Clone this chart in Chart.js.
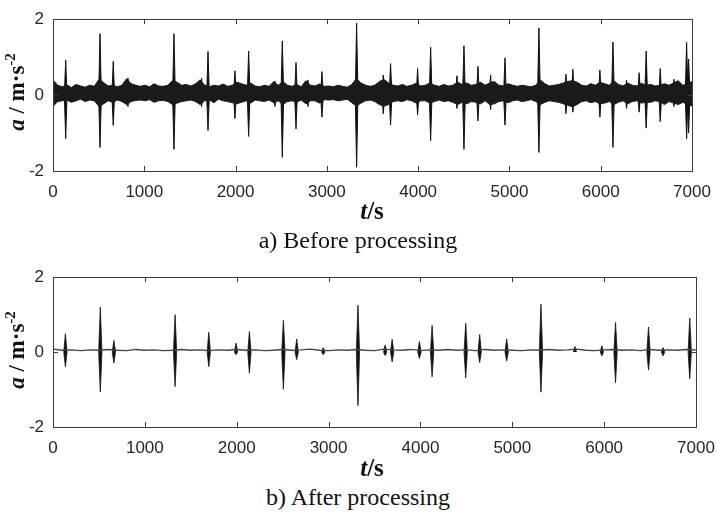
<!DOCTYPE html>
<html>
<head>
<meta charset="utf-8">
<script src="https://cdn.jsdelivr.net/npm/chart.js@4.4.1/dist/chart.umd.min.js"></script>
<style>
  html, body { margin: 0; padding: 0; background: #fff; }
  #wrap { position: relative; width: 717px; height: 518px; overflow: hidden; }
  canvas { position: absolute; left: 0; }
  .ylab {
    position: absolute; white-space: nowrap; font: bold 23px "Liberation Serif", "Times New Roman", serif;
    color: #111; transform: translate(-50%, -50%) rotate(-90deg);
  }
  .ylab sup { font-size: 15px; position: relative; top: -2px; vertical-align: top; }
  .xlab {
    position: absolute; white-space: nowrap; font: bold 25px "Liberation Serif", "Times New Roman", serif;
    color: #111; transform: translate(-50%, -50%);
  }
  .cap {
    position: absolute; white-space: nowrap; font: 24px "Liberation Serif", "Times New Roman", serif;
    color: #111; transform: translate(-50%, -50%);
  }
</style>
</head>
<body>
<div id="wrap">
  <canvas id="before" width="717" height="200" style="top:0"></canvas>
  <canvas id="after" width="717" height="200" style="top:258px"></canvas>
  <div class="ylab" style="left:17px; top:92px"><i>a</i> / m·s<sup>-2</sup></div>
  <div class="ylab" style="left:17px; top:350px"><i>a</i> / m·s<sup>-2</sup></div>
  <div class="xlab" style="left:372px; top:211px"><i>t</i>/s</div>
  <div class="xlab" style="left:372px; top:468px"><i>t</i>/s</div>
  <div class="cap" style="left:358px; top:240px">a) Before processing</div>
  <div class="cap" style="left:358px; top:497px">b) After processing</div>
</div>
<script>
// x grid / ticks
const xTicks = [0, 1000, 2000, 3000, 4000, 5000, 6000, 7000];
const yTicks = [-2, 0, 2];
const T_END = 7000;

// before processing: noise envelope (upper / lower edge), 140 samples over 0..7000 s
const bandHi = [
  0.40, 0.26, 0.22, 0.27, 0.20, 0.28, 0.24, 0.21, 0.26, 0.23,
  0.42, 0.33, 0.24, 0.26, 0.22, 0.26, 0.43, 0.30, 0.26, 0.23,
  0.26, 0.22, 0.30, 0.24, 0.23, 0.26, 0.38, 0.34, 0.26, 0.28,
  0.24, 0.30, 0.40, 0.26, 0.22, 0.26, 0.24, 0.29, 0.23, 0.26,
  0.34, 0.30, 0.26, 0.32, 0.24, 0.22, 0.26, 0.23, 0.35, 0.26,
  0.36, 0.26, 0.23, 0.28, 0.22, 0.38, 0.26, 0.24, 0.29, 0.23,
  0.24, 0.22, 0.26, 0.23, 0.21, 0.28, 0.44, 0.32, 0.26, 0.23,
  0.26, 0.36, 0.41, 0.32, 0.26, 0.24, 0.28, 0.23, 0.26, 0.31,
  0.24, 0.26, 0.32, 0.26, 0.23, 0.28, 0.24, 0.26, 0.34, 0.28,
  0.32, 0.26, 0.28, 0.34, 0.26, 0.32, 0.36, 0.26, 0.24, 0.30,
  0.26, 0.23, 0.26, 0.24, 0.22, 0.26, 0.40, 0.30, 0.24, 0.26,
  0.28, 0.32, 0.36, 0.38, 0.34, 0.26, 0.24, 0.30, 0.26, 0.34,
  0.30, 0.26, 0.38, 0.28, 0.24, 0.32, 0.26, 0.24, 0.31, 0.26,
  0.28, 0.24, 0.26, 0.30, 0.26, 0.32, 0.38, 0.26, 0.30, 0.36
];
const bandLo = [
  -0.30, -0.17, -0.15, -0.13, -0.19, -0.15, -0.11, -0.17, -0.13, -0.15,
  -0.30, -0.23, -0.15, -0.19, -0.13, -0.17, -0.25, -0.17, -0.14, -0.13,
  -0.15, -0.12, -0.19, -0.15, -0.14, -0.17, -0.25, -0.21, -0.17, -0.15,
  -0.13, -0.17, -0.25, -0.15, -0.13, -0.20, -0.11, -0.15, -0.17, -0.20,
  -0.23, -0.19, -0.15, -0.21, -0.13, -0.15, -0.17, -0.13, -0.20, -0.15,
  -0.25, -0.17, -0.15, -0.19, -0.13, -0.23, -0.15, -0.15, -0.21, -0.12,
  -0.13, -0.12, -0.15, -0.13, -0.11, -0.20, -0.29, -0.21, -0.15, -0.13,
  -0.17, -0.25, -0.29, -0.25, -0.17, -0.15, -0.17, -0.12, -0.15, -0.21,
  -0.15, -0.15, -0.21, -0.17, -0.13, -0.17, -0.15, -0.19, -0.25, -0.19,
  -0.23, -0.17, -0.19, -0.23, -0.15, -0.25, -0.23, -0.17, -0.15, -0.20,
  -0.15, -0.13, -0.17, -0.15, -0.12, -0.17, -0.25, -0.19, -0.15, -0.17,
  -0.19, -0.23, -0.27, -0.31, -0.25, -0.17, -0.15, -0.20, -0.17, -0.23,
  -0.21, -0.17, -0.25, -0.19, -0.15, -0.23, -0.17, -0.15, -0.21, -0.19,
  -0.19, -0.15, -0.17, -0.25, -0.17, -0.21, -0.25, -0.19, -0.25, -0.29
];

// before processing: impacts (time, peak, trough)
const spikeT  = [139, 515, 660, 821, 1325, 1628, 1698, 1993, 2143, 2431, 2512, 2662, 2793, 2946, 3326, 3618, 3698, 3994, 4137, 4425, 4502, 4655, 4794, 4951, 5323, 5619, 5695, 5991, 6134, 6283, 6421, 6498, 6652, 6802, 6941, 6963];
const spikeHi = [0.92, 1.62, 0.89, 0.45, 1.62, 0.45, 1.15, 0.64, 1.16, 0.37, 1.43, 0.86, 0.40, 0.62, 1.90, 0.53, 0.83, 0.70, 1.26, 0.51, 1.30, 0.76, 0.53, 0.98, 1.77, 0.55, 0.68, 0.66, 1.40, 0.39, 0.59, 1.16, 0.70, 0.42, 1.39, 0.95];
const spikeLo = [-1.15, -1.38, -0.80, -0.30, -1.43, -0.30, -0.93, -0.62, -1.09, -0.30, -1.64, -0.89, -0.30, -0.58, -1.90, -0.49, -0.79, -0.52, -1.20, -0.35, -1.43, -0.68, -0.38, -0.79, -1.51, -0.49, -0.45, -0.58, -1.38, -0.35, -0.45, -0.87, -0.70, -0.30, -1.15, -1.00];

// after processing: residual baseline every 100 s
const BASE_STEP = 100;
const baseLine = [
  0.08, 0.05, 0.06, 0.04, 0.06, 0.05, 0.07, 0.05, 0.04, 0.07,
  0.05, 0.06, 0.04, 0.05, 0.07, 0.05, 0.06, 0.04, 0.06, 0.05,
  0.07, 0.05, 0.06, 0.04, 0.05, 0.07, 0.05, 0.06, 0.08, 0.05,
  0.04, 0.06, 0.05, 0.07, 0.05, 0.04, 0.08, 0.06, 0.05, 0.07,
  0.04, 0.06, 0.05, 0.07, 0.05, 0.06, 0.04, 0.07, 0.05, 0.06,
  0.05, 0.04, 0.06, 0.05, 0.07, 0.05, 0.06, 0.08, 0.05, 0.04,
  0.06, 0.07, 0.05, 0.06, 0.04, 0.07, 0.05, 0.06, 0.05, 0.07, 0.06
];
const afterT  = [135, 515, 663, 1329, 1696, 1993, 2138, 2508, 2653, 2942, 3320, 3616, 3692, 3989, 4127, 4493, 4645, 4939, 5312, 5682, 5975, 6124, 6483, 6641, 6932];
const afterHi = [0.49, 1.20, 0.31, 1.00, 0.53, 0.24, 0.55, 0.85, 0.35, 0.12, 1.25, 0.19, 0.34, 0.28, 0.71, 0.77, 0.47, 0.35, 1.28, 0.15, 0.17, 0.79, 0.67, 0.12, 0.91];
const afterLo = [-0.39, -1.06, -0.29, -0.92, -0.39, -0.07, -0.56, -0.99, -0.20, -0.07, -1.43, -0.09, -0.26, -0.17, -0.66, -0.69, -0.28, -0.24, -1.07, 0.00, -0.10, -0.82, -0.48, -0.10, -0.71];

// MATLAB-like box with inward ticks
const boxPlugin = {
  id: "box",
  afterDraw(chart) {
    const { ctx, chartArea: a, scales } = chart;
    ctx.save();
    ctx.strokeStyle = "#3c3c3c";
    ctx.lineWidth = 1;
    ctx.strokeRect(Math.round(a.left) + 0.5, Math.round(a.top) + 0.5,
      Math.round(a.right - a.left), Math.round(a.bottom - a.top));
    ctx.beginPath();
    xTicks.forEach((v) => {
      const x = Math.round(scales.x.getPixelForValue(v)) + 0.5;
      ctx.moveTo(x, a.top); ctx.lineTo(x, a.top + 5);
      ctx.moveTo(x, a.bottom); ctx.lineTo(x, a.bottom - 5);
    });
    yTicks.forEach((v) => {
      const y = Math.round(scales.y.getPixelForValue(v)) + 0.5;
      ctx.moveTo(a.left, y); ctx.lineTo(a.left + 5, y);
      ctx.moveTo(a.right, y); ctx.lineTo(a.right - 5, y);
    });
    ctx.stroke();
    ctx.restore();
  }
};

// each impact as a narrow needle above and below zero (half width w seconds)
function needles(ts, vals, w) {
  const pts = [];
  ts.forEach((t, i) => {
    pts.push({ x: t - w, y: 0 }, { x: t, y: vals[i] }, { x: t + w, y: 0 });
  });
  return pts;
}

function needleSet(ts, vals, w, edge) {
  return {
    data: needles(ts, vals, w), fill: "origin",
    backgroundColor: "#111", borderColor: "#111", borderWidth: edge, pointRadius: 0, tension: 0,
    // no outline along the zero line between needles
    segment: {
      borderColor: (c) => (c.p0.parsed.y === 0 && c.p1.parsed.y === 0 ? "rgba(0,0,0,0)" : undefined)
    }
  };
}

function makeChart(id, datasets, pad, xHeight) {
  new Chart(document.getElementById(id), {
    type: "line",
    data: { datasets: datasets },
    options: {
      responsive: false,
      animation: false,
      layout: { padding: pad },
      plugins: { legend: { display: false }, tooltip: { enabled: false } },
      scales: {
        x: {
          type: "linear", min: 0, max: T_END,
          grid: { display: false, drawTicks: false },
          border: { display: false },
          afterBuildTicks: (s) => { s.ticks = xTicks.map((v) => ({ value: v })); },
          afterFit: (s) => { s.height = xHeight; s.paddingLeft = 0; s.paddingRight = 0; },
          ticks: { color: "#262626", padding: 11, maxRotation: 0, autoSkip: false,
                   callback: (v) => String(v),
                   font: { family: "'Liberation Sans', Arial, sans-serif", size: 17 } }
        },
        y: {
          min: -2, max: 2,
          grid: { display: false, drawTicks: false },
          border: { display: false },
          afterBuildTicks: (s) => { s.ticks = yTicks.map((v) => ({ value: v })); },
          afterFit: (s) => { s.width = 53; },
          ticks: { color: "#262626", padding: 9, callback: (v) => String(v),
                   font: { family: "'Liberation Sans', Arial, sans-serif", size: 17 } }
        }
      }
    },
    plugins: [boxPlugin]
  });
}

// band samples spread evenly over the record
const bandStep = T_END / (bandHi.length - 1);

makeChart("before", [
  {
    data: bandHi.map((v, i) => ({ x: i * bandStep, y: v })),
    fill: "+1", backgroundColor: "#1a1a1a", borderColor: "#1a1a1a",
    borderWidth: 1, pointRadius: 0, tension: 0
  },
  {
    data: bandLo.map((v, i) => ({ x: i * bandStep, y: v })),
    fill: false, borderColor: "#1a1a1a", borderWidth: 1, pointRadius: 0, tension: 0
  },
  needleSet(spikeT, spikeHi, 15, 1),
  needleSet(spikeT, spikeLo, 15, 1)
], { top: 14, left: 0, right: 25, bottom: 0 }, 29);

makeChart("after", [
  {
    data: baseLine.map((v, i) => ({ x: i * BASE_STEP, y: v })),
    borderColor: "#444", borderWidth: 1.3, pointRadius: 0, tension: 0
  },
  needleSet(afterT, afterHi, 18, 0.8),
  needleSet(afterT, afterLo, 18, 0.8)
], { top: 14, left: 0, right: 21, bottom: 0 }, 31);
</script>
</body>
</html>
